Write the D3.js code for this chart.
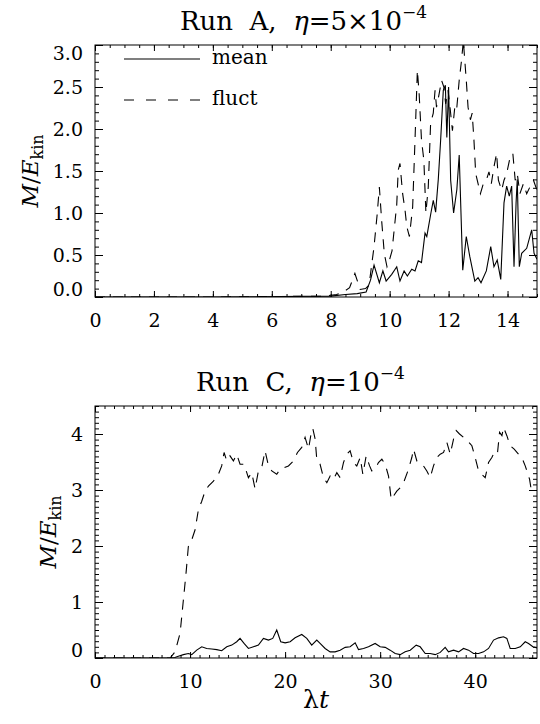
<!DOCTYPE html>
<html>
<head>
<meta charset="utf-8">
<script src="https://cdn.jsdelivr.net/npm/d3@7"></script>
<style>
  body { margin: 0; background: #fff; }
  svg { display: block; }
  text { font-family: "DejaVu Serif", serif; fill: #000; white-space: pre; }
  .tick text { font-family: "DejaVu Serif", serif; font-size: 19px; }
  .tick line { stroke: #000; stroke-width: 1; }
</style>
</head>
<body>
<svg width="540" height="724"></svg>
<script>
// ---- Run A (eta = 5e-4) ----
const runA_mean_t = [0, 4, 8, 8.5, 8.9, 9.2, 9.35, 9.47, 9.65, 9.77, 9.88, 10.07, 10.24, 10.35, 10.49, 10.6, 10.75, 10.86, 10.97, 11.08, 11.2, 11.26, 11.32, 11.4, 11.48, 11.56, 11.65, 11.73, 11.82, 11.89, 11.94, 12.0, 12.07, 12.17, 12.28, 12.36, 12.48, 12.6, 12.72, 12.89, 13.0, 13.1, 13.28, 13.43, 13.54, 13.65, 13.77, 13.88, 13.97, 14.06, 14.14, 14.22, 14.29, 14.33, 14.4, 14.48, 14.65, 14.82, 14.9, 15.0];
const runA_mean   = [0, 0, 0.01, 0.03, 0.04, 0.06, 0.2, 0.38, 0.17, 0.31, 0.19, 0.27, 0.36, 0.19, 0.31, 0.25, 0.33, 0.31, 0.43, 0.41, 0.76, 0.72, 0.84, 1.0, 1.15, 1.01, 1.4, 1.87, 2.46, 2.52, 1.9, 2.5, 1.39, 1.0, 1.28, 1.69, 0.32, 0.72, 0.48, 0.19, 0.23, 0.17, 0.31, 0.6, 0.36, 0.44, 0.21, 1.12, 1.32, 1.2, 1.32, 0.36, 1.12, 1.4, 0.36, 0.52, 0.58, 0.8, 0.52, 0.45];

const runA_fluct_t = [0, 4, 7.8, 8.2, 8.42, 8.64, 8.82, 9.0, 9.18, 9.3, 9.47, 9.58, 9.65, 9.73, 9.82, 9.91, 10.0, 10.08, 10.24, 10.29, 10.35, 10.44, 10.52, 10.58, 10.67, 10.78, 10.86, 10.94, 11.0, 11.08, 11.16, 11.23, 11.31, 11.39, 11.48, 11.54, 11.59, 11.68, 11.76, 11.84, 11.9, 11.98, 12.06, 12.13, 12.21, 12.27, 12.36, 12.44, 12.5, 12.6, 12.66, 12.74, 12.8, 12.86, 12.92, 13.0, 13.08, 13.18, 13.28, 13.37, 13.45, 13.54, 13.63, 13.69, 13.8, 13.88, 13.97, 14.09, 14.18, 14.26, 14.33, 14.42, 14.54, 14.65, 14.76, 14.88, 15.0];
const runA_fluct   = [0, 0, 0.01, 0.03, 0.06, 0.11, 0.28, 0.09, 0.1, 0.14, 0.6, 1.0, 1.31, 0.9, 0.51, 0.36, 0.45, 0.55, 1.1, 1.51, 1.59, 1.23, 1.04, 0.84, 0.72, 1.07, 1.87, 2.7, 2.42, 1.87, 1.63, 1.0, 1.31, 2.07, 2.19, 2.46, 2.26, 2.42, 2.58, 2.5, 2.3, 2.46, 2.22, 1.98, 2.26, 2.22, 2.58, 2.82, 3.05, 2.58, 2.26, 2.11, 2.19, 1.87, 1.47, 1.35, 1.23, 1.35, 1.39, 1.49, 1.35, 1.55, 1.71, 1.39, 1.27, 1.39, 1.47, 1.67, 1.71, 1.39, 1.47, 1.23, 1.35, 1.23, 1.31, 1.39, 1.27];

// ---- Run C (eta = 1e-4) ----
const runC_mean_t = [0, 4, 8, 8.4, 8.77, 9.3, 9.82, 10.18, 10.7, 11.23, 11.75, 12.28, 12.81, 13.33, 13.86, 14.39, 14.91, 15.26, 15.68, 16.14, 16.67, 17.19, 17.72, 18.25, 18.7, 19.12, 19.54, 20.0, 20.53, 21.05, 21.75, 22.28, 22.8, 23.33, 23.68, 24.21, 24.74, 25.26, 25.79, 26.32, 26.84, 27.37, 27.72, 28.25, 28.77, 29.47, 30.0, 30.53, 31.05, 31.58, 32.1, 32.63, 33.16, 33.79, 34.21, 34.74, 35.26, 35.79, 36.32, 36.84, 37.19, 37.72, 38.25, 38.77, 39.3, 39.82, 40.35, 40.88, 41.4, 41.93, 42.46, 42.98, 43.33, 43.68, 44.21, 44.74, 45.26, 45.61, 46.07, 46.5];
const runC_mean   = [0, 0, 0, 0.01, 0.03, 0.06, 0.08, 0.06, 0.14, 0.2, 0.17, 0.16, 0.15, 0.13, 0.2, 0.23, 0.29, 0.35, 0.26, 0.17, 0.2, 0.23, 0.35, 0.32, 0.35, 0.5, 0.29, 0.27, 0.29, 0.36, 0.42, 0.35, 0.23, 0.32, 0.26, 0.17, 0.11, 0.11, 0.14, 0.19, 0.2, 0.27, 0.15, 0.17, 0.2, 0.26, 0.2, 0.19, 0.14, 0.08, 0.06, 0.11, 0.14, 0.23, 0.2, 0.08, 0.08, 0.06, 0.1, 0.19, 0.11, 0.14, 0.11, 0.17, 0.14, 0.08, 0.08, 0.11, 0.17, 0.32, 0.36, 0.38, 0.35, 0.17, 0.17, 0.2, 0.29, 0.26, 0.2, 0.18];

const runC_fluct_t = [0, 4, 7.9, 8.42, 8.95, 9.3, 9.58, 9.82, 10.18, 10.53, 10.88, 11.23, 11.58, 11.93, 12.46, 12.98, 13.33, 13.58, 13.86, 14.2, 14.56, 14.91, 15.26, 15.68, 16.14, 16.49, 16.84, 17.19, 17.54, 17.89, 18.25, 18.6, 19.12, 19.47, 19.89, 20.35, 20.88, 21.3, 21.75, 22.1, 22.46, 22.7, 22.91, 23.16, 23.33, 23.68, 24.04, 24.39, 24.74, 25.09, 25.44, 25.79, 26.14, 26.49, 26.84, 27.19, 27.54, 27.9, 28.18, 28.53, 28.89, 29.12, 29.47, 29.82, 30.18, 30.53, 30.88, 31.16, 31.4, 31.75, 32.1, 32.46, 32.98, 33.33, 33.51, 33.86, 34.21, 34.56, 34.91, 35.26, 35.61, 35.96, 36.32, 36.67, 37.02, 37.37, 37.72, 38.0, 38.35, 38.77, 39.19, 39.65, 40.0, 40.35, 40.7, 41.05, 41.4, 41.75, 42.1, 42.35, 42.56, 42.81, 42.98, 43.33, 43.68, 44.1, 44.56, 44.91, 45.26, 45.44, 45.72, 45.86, 46.07, 46.5];
const runC_fluct   = [0, 0, 0, 0.11, 0.44, 1.04, 1.52, 1.99, 2.11, 2.29, 2.65, 2.8, 2.98, 3.07, 3.16, 3.28, 3.43, 3.67, 3.52, 3.61, 3.52, 3.64, 3.46, 3.46, 3.22, 3.31, 3.02, 3.34, 3.4, 3.7, 3.43, 3.34, 3.28, 3.37, 3.4, 3.43, 3.52, 3.67, 3.76, 3.94, 3.73, 3.97, 4.1, 3.91, 3.55, 3.46, 3.22, 3.13, 3.25, 3.19, 3.31, 3.22, 3.49, 3.64, 3.7, 3.49, 3.43, 3.58, 3.28, 3.61, 3.43, 3.34, 3.37, 3.49, 3.55, 3.46, 3.25, 2.83, 2.89, 2.98, 3.04, 3.13, 3.37, 3.58, 3.73, 3.52, 3.46, 3.43, 3.34, 3.22, 3.43, 3.58, 3.64, 3.67, 3.85, 3.64, 3.91, 4.06, 4.0, 3.94, 3.88, 3.79, 3.58, 3.34, 3.28, 3.22, 3.49, 3.58, 3.7, 3.67, 4.03, 3.97, 4.12, 3.97, 3.79, 3.73, 3.64, 3.58, 3.43, 3.34, 3.19, 3.04, 3.01, 3.0];

const legendLabels = ['mean', 'fluct'];

const svg = d3.select('svg');
const left = 95, right = 537, plotH = 252;

const pair = (ts, vs) => ts.map((t, i) => [t, vs[i]]);

function panel(id, top, xDomain, yDomain, xTicks, yTicks, series, title) {
  const x = d3.scaleLinear().domain(xDomain).range([left, right]);
  const y = d3.scaleLinear().domain(yDomain).range([top + plotH, top]);
  const g = svg.append('g');

  g.append('clipPath').attr('id', 'clip' + id)
    .append('rect').attr('x', left).attr('y', top).attr('width', right - left).attr('height', plotH);

  // ticks on all four sides, pointing inward (IDL style)
  const mk = (axis, sc, vals, len, fmt, tx, ty, pad) =>
    g.append('g').attr('transform', `translate(${tx},${ty})`)
      .call(axis(sc).tickValues(vals).tickSize(-len).tickPadding(pad).tickFormat(fmt))
      .call(a => a.select('.domain').remove());

  const xMaj = d3.range(xDomain[0], xDomain[1] + 1e-9, xTicks.major);
  const xMin = d3.range(xDomain[0], xDomain[1] + 1e-9, xTicks.minor);
  const yMaj = d3.range(yDomain[0], yDomain[1] + 1e-9, yTicks.major);
  const yMin = d3.range(yDomain[0], yDomain[1] + 1e-9, yTicks.minor);

  mk(d3.axisBottom, x, xMin, 3, '', 0, top + plotH, 0);
  mk(d3.axisTop, x, xMin, 3, '', 0, top, 0);
  mk(d3.axisBottom, x, xMaj, 6, d3.format('d'), 0, top + plotH, 17);
  mk(d3.axisTop, x, xMaj, 6, '', 0, top, 0);
  mk(d3.axisLeft, y, yMin, 4, '', left, 0, 0);
  mk(d3.axisRight, y, yMin, 4, '', right, 0, 0);
  const yl = mk(d3.axisLeft, y, yMaj, 8, yTicks.fmt, left, 0, 12);
  mk(d3.axisRight, y, yMaj, 8, '', right, 0, 0);

  // end labels pulled inside the frame
  yl.selectAll('.tick text')
    .attr('dy', d => Math.abs(d - yDomain[0]) < 1e-9 ? '-0.1em' : Math.abs(d - yDomain[1]) < 1e-9 ? '0.75em' : '0.32em');

  g.append('rect').attr('x', left).attr('y', top).attr('width', right - left).attr('height', plotH)
    .attr('fill', 'none').attr('stroke', '#000').attr('stroke-width', 1);

  const line = d3.line().x(d => x(d[0])).y(d => y(d[1]));
  const lines = g.append('g').attr('clip-path', `url(#clip${id})`);
  series.forEach(s => {
    lines.append('path').datum(s.data)
      .attr('d', line).attr('fill', 'none').attr('stroke', '#000')
      .attr('stroke-width', 1.1).attr('stroke-dasharray', s.dash);
  });

  // title
  const tt = g.append('text').attr('x', title.x).attr('y', top - 15)
    .attr('font-size', 26);
  tt.append('tspan').text(title.main);
  tt.append('tspan').attr('font-style', 'italic').text('η');
  tt.append('tspan').text('=' + title.coef + '10');
  tt.append('tspan').attr('font-size', 17).attr('dy', -12).text('−4');

  // y label
  const yt = g.append('text')
    .attr('transform', `translate(${yTicks.labelX},${top + plotH / 2}) rotate(-90)`)
    .attr('text-anchor', 'middle').attr('font-size', 23);
  yt.append('tspan').attr('font-style', 'italic').text('M');
  yt.append('tspan').text('/');
  yt.append('tspan').attr('font-style', 'italic').text('E');
  yt.append('tspan').attr('font-size', 16).attr('dy', 5).text('kin');

  return { x, y, g };
}

const pA = panel('A', 45, [0, 15], [0, 3], { major: 2, minor: 0.5 },
  { major: 0.5, minor: 0.1, fmt: d3.format('.1f'), labelX: 38 },
  [{ data: pair(runA_mean_t, runA_mean), dash: null },
   { data: pair(runA_fluct_t, runA_fluct), dash: '10,8' }],
  { main: 'Run  A,  ', coef: '5×', x: 180 });

const pC = panel('C', 406, [0, 46.5], [0, 4.5], { major: 10, minor: 1 },
  { major: 1, minor: 0.1, fmt: d3.format('d'), labelX: 56 },
  [{ data: pair(runC_mean_t, runC_mean), dash: null },
   { data: pair(runC_fluct_t, runC_fluct), dash: '10,8' }],
  { main: 'Run  C,  ', coef: '', x: 196 });

// legend (top panel)
const lg = pA.g.append('g');
legendLabels.forEach((name, i) => {
  const yy = 59 + i * 41;
  lg.append('line').attr('x1', 124).attr('x2', 200).attr('y1', yy).attr('y2', yy)
    .attr('stroke', '#000').attr('stroke-width', 1.1)
    .attr('stroke-dasharray', i === 0 ? null : '10,12');
  lg.append('text').attr('x', 212).attr('y', yy + 5).attr('font-size', 20).text(name);
});

// x label (bottom panel)
const xl = svg.append('text').attr('x', 316).attr('y', 708)
  .attr('text-anchor', 'middle').attr('font-size', 25);
xl.append('tspan').text('λ');
xl.append('tspan').attr('font-style', 'italic').text('t');
</script>
</body>
</html>
